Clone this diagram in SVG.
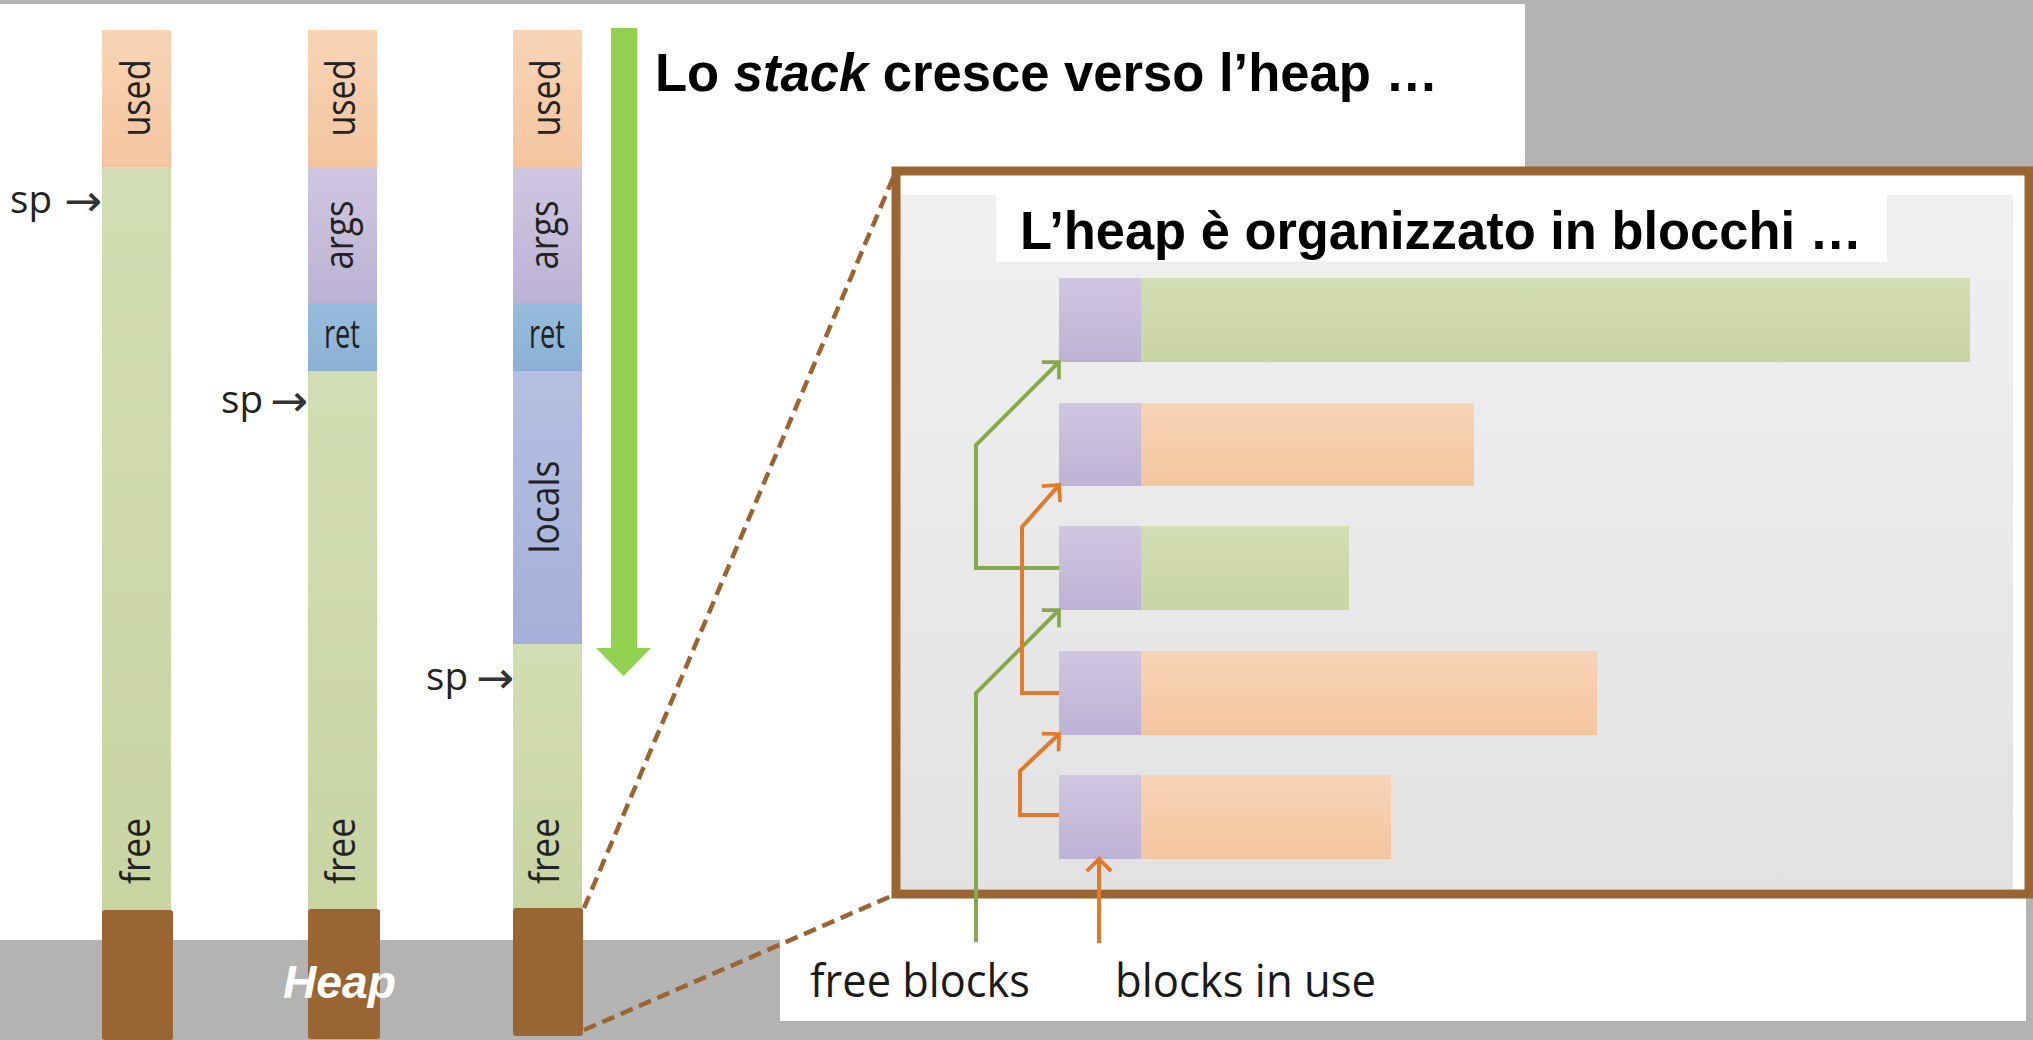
<svg xmlns="http://www.w3.org/2000/svg" width="2033" height="1040" viewBox="0 0 2033 1040">
<defs>
<style>
.seg{font-family:"Open Sans","Noto Sans","DejaVu Sans",sans-serif;font-size:41px;fill:#222}
.sp{font-family:"Open Sans","Noto Sans","DejaVu Sans",sans-serif;font-size:39px;fill:#222}
.arr{font-family:"DejaVu Sans",sans-serif;font-size:44px;fill:#333}
.lbl{font-family:"Open Sans","Noto Sans","DejaVu Sans",sans-serif;font-size:45px;fill:#1a1a1a}
.title{font-family:"Liberation Sans",Arial,sans-serif;font-weight:bold;font-size:53px;fill:#000}
.brown{fill:#996633}
.grn{fill:none;stroke:#86a94e;stroke-width:4;stroke-linejoin:miter}
.org{fill:none;stroke:#e07a2c;stroke-width:4;stroke-linejoin:miter}
.dash{fill:none;stroke:#9c6430;stroke-width:4.5;stroke-dasharray:13 7}
</style>
<linearGradient id="gGreen" x1="0" y1="0" x2="0" y2="1"><stop offset="0" stop-color="#d3ddb3"/><stop offset="1" stop-color="#c9d4a3"/></linearGradient>
<linearGradient id="gOrange" x1="0" y1="0" x2="0" y2="1"><stop offset="0" stop-color="#f7d4b6"/><stop offset="1" stop-color="#f3c59f"/></linearGradient>
<linearGradient id="gPurple" x1="0" y1="0" x2="0" y2="1"><stop offset="0" stop-color="#cfc7e0"/><stop offset="1" stop-color="#bcb2d5"/></linearGradient>
<linearGradient id="gLocals" x1="0" y1="0" x2="0" y2="1"><stop offset="0" stop-color="#b6bfe1"/><stop offset="1" stop-color="#a4b0d9"/></linearGradient>
<linearGradient id="gRet" x1="0" y1="0" x2="0" y2="1"><stop offset="0" stop-color="#98bcdc"/><stop offset="1" stop-color="#8bb0d4"/></linearGradient>
<linearGradient id="gPanel" x1="0" y1="0" x2="0" y2="1"><stop offset="0" stop-color="#f0f0f0"/><stop offset="1" stop-color="#e2e2e2"/></linearGradient>
<marker id="mG" markerUnits="userSpaceOnUse" markerWidth="30" markerHeight="30" viewBox="-16 -16 32 32" refX="0" refY="0" orient="auto"><path d="M-13,-13 L0,0 L-13,13" fill="none" stroke="#86a94e" stroke-width="4"/></marker>
<marker id="mO" markerUnits="userSpaceOnUse" markerWidth="30" markerHeight="30" viewBox="-16 -16 32 32" refX="0" refY="0" orient="auto"><path d="M-13,-13 L0,0 L-13,13" fill="none" stroke="#e07a2c" stroke-width="4"/></marker>
</defs>

<!-- backgrounds -->
<rect x="0" y="0" width="2033" height="1040" fill="#b3b3b3"/>
<rect x="0" y="4" width="1525" height="936" fill="#ffffff"/>
<rect x="780" y="167" width="1246" height="854" fill="#ffffff"/>

<!-- stack columns -->
<g id="stack1">
<rect x="102" y="30" width="69" height="137" fill="url(#gOrange)"/>
<rect x="102" y="167" width="69" height="744" fill="url(#gGreen)"/>
<text class="seg" transform="translate(150,98) rotate(-90)" text-anchor="middle" textLength="77" lengthAdjust="spacingAndGlyphs">used</text>
<text class="seg" transform="translate(150,851) rotate(-90)" text-anchor="middle" textLength="66" lengthAdjust="spacingAndGlyphs">free</text>
<text class="sp" x="10" y="213" textLength="42" lengthAdjust="spacingAndGlyphs">sp</text>
<text class="arr" x="64" y="216" textLength="38" lengthAdjust="spacingAndGlyphs">→</text>
<rect class="brown" x="102" y="910" width="71" height="130" rx="3"/>
</g>

<g id="stack2">
<rect x="308" y="30" width="69" height="137" fill="url(#gOrange)"/>
<rect x="308" y="167" width="69" height="136" fill="url(#gPurple)"/>
<rect x="308" y="303" width="69" height="68" fill="url(#gRet)"/>
<rect x="308" y="371" width="69" height="539" fill="url(#gGreen)"/>
<text class="seg" transform="translate(355,98) rotate(-90)" text-anchor="middle" textLength="77" lengthAdjust="spacingAndGlyphs">used</text>
<text class="seg" transform="translate(353,235) rotate(-90)" text-anchor="middle" textLength="69" lengthAdjust="spacingAndGlyphs">args</text>
<text class="seg" x="342" y="348" text-anchor="middle" textLength="36" lengthAdjust="spacingAndGlyphs">ret</text>
<text class="seg" transform="translate(355,851) rotate(-90)" text-anchor="middle" textLength="66" lengthAdjust="spacingAndGlyphs">free</text>
<text class="sp" x="221" y="413" textLength="42" lengthAdjust="spacingAndGlyphs">sp</text>
<text class="arr" x="270" y="416" textLength="38" lengthAdjust="spacingAndGlyphs">→</text>
<rect class="brown" x="308" y="909" width="72" height="130" rx="3"/>
</g>

<g id="stack3">
<rect x="513" y="30" width="69" height="137" fill="url(#gOrange)"/>
<rect x="513" y="167" width="69" height="136" fill="url(#gPurple)"/>
<rect x="513" y="303" width="69" height="68" fill="url(#gRet)"/>
<rect x="513" y="371" width="69" height="273" fill="url(#gLocals)"/>
<rect x="513" y="644" width="69" height="265" fill="url(#gGreen)"/>
<text class="seg" transform="translate(560,98) rotate(-90)" text-anchor="middle" textLength="77" lengthAdjust="spacingAndGlyphs">used</text>
<text class="seg" transform="translate(558,235) rotate(-90)" text-anchor="middle" textLength="69" lengthAdjust="spacingAndGlyphs">args</text>
<text class="seg" x="547" y="348" text-anchor="middle" textLength="36" lengthAdjust="spacingAndGlyphs">ret</text>
<text class="seg" transform="translate(559,507) rotate(-90)" text-anchor="middle" textLength="93" lengthAdjust="spacingAndGlyphs">locals</text>
<text class="seg" transform="translate(559,851) rotate(-90)" text-anchor="middle" textLength="66" lengthAdjust="spacingAndGlyphs">free</text>
<text class="sp" x="426" y="690" textLength="42" lengthAdjust="spacingAndGlyphs">sp</text>
<text class="arr" x="476" y="693" textLength="38" lengthAdjust="spacingAndGlyphs">→</text>
<rect class="brown" x="513" y="908" width="70" height="128" rx="3"/>
</g>

<g id="heap-label">
<text x="283" y="998" font-family="'Liberation Sans',Arial,sans-serif" font-weight="bold" font-style="italic" font-size="46" fill="#ffffff" textLength="113" lengthAdjust="spacingAndGlyphs">Heap</text>
</g>

<g id="grow-arrow">
<rect x="611" y="28" width="26" height="621" fill="#92d050"/>
<polygon points="596,648 651,648 623.5,676" fill="#92d050"/>
</g>

<g id="title-stack">
<text class="title" x="655" y="91" textLength="783" lengthAdjust="spacingAndGlyphs">Lo <tspan font-style="italic">stack</tspan> cresce verso l’heap …</text>
</g>

<!-- heap zoom frame -->
<g id="heap-frame">
<rect x="900" y="195" width="1113" height="694" fill="url(#gPanel)"/>
<rect x="896" y="171" width="1133" height="723" fill="none" stroke="#996633" stroke-width="9"/>
</g>

<g id="heap-title">
<rect x="996" y="195" width="891" height="67" fill="#ffffff"/>
<text class="title" x="1020" y="249" textLength="842" lengthAdjust="spacingAndGlyphs">L’heap è organizzato in blocchi …</text>
</g>

<g id="block1">
<rect x="1059" y="278" width="82" height="84" fill="url(#gPurple)"/>
<rect x="1141" y="278" width="829" height="84" fill="url(#gGreen)"/>
</g>
<g id="block2">
<rect x="1059" y="403" width="82" height="83" fill="url(#gPurple)"/>
<rect x="1141" y="403" width="333" height="83" fill="url(#gOrange)"/>
</g>
<g id="block3">
<rect x="1059" y="526" width="82" height="84" fill="url(#gPurple)"/>
<rect x="1141" y="526" width="208" height="84" fill="url(#gGreen)"/>
</g>
<g id="block4">
<rect x="1059" y="651" width="82" height="84" fill="url(#gPurple)"/>
<rect x="1141" y="651" width="456" height="84" fill="url(#gOrange)"/>
</g>
<g id="block5">
<rect x="1059" y="775" width="82" height="84" fill="url(#gPurple)"/>
<rect x="1141" y="775" width="250" height="84" fill="url(#gOrange)"/>
</g>

<g id="label-free">
<text class="lbl" x="810" y="997" textLength="220" lengthAdjust="spacingAndGlyphs">free blocks</text>
</g>
<g id="label-used">
<text class="lbl" x="1115" y="997" textLength="261" lengthAdjust="spacingAndGlyphs">blocks in use</text>
</g>

<g id="connectors">
<path class="dash" d="M584,908 L896,171"/>
<path class="dash" d="M584,1030 L896,894"/>
<path class="grn" d="M976,942 L976,693 L1059,610" marker-end="url(#mG)"/>
<path class="grn" d="M1059,568 L976,568 L976,445 L1059,362" marker-end="url(#mG)"/>
<path class="org" d="M1099,943 L1099,859" marker-end="url(#mO)"/>
<path class="org" d="M1059,815 L1020,815 L1020,771 L1059,734" marker-end="url(#mO)"/>
<path class="org" d="M1059,693 L1022,693 L1022,527 L1059,485" marker-end="url(#mO)"/>
</g>
</svg>
